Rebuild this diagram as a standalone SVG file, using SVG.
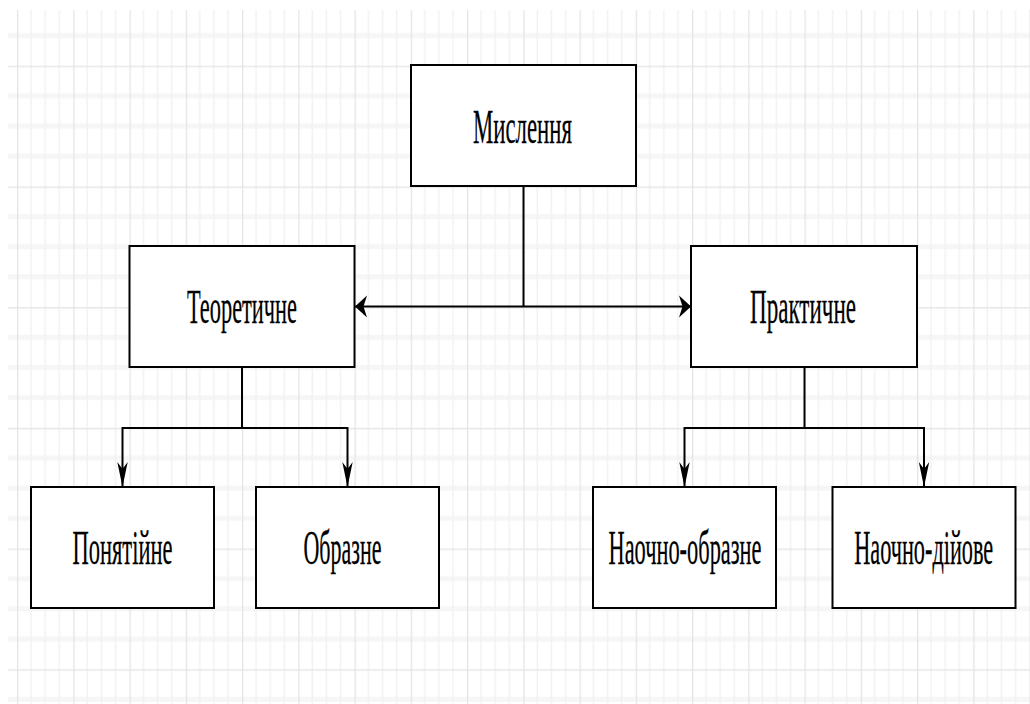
<svg xmlns="http://www.w3.org/2000/svg" width="1030" height="704" viewBox="0 0 1030 704">
  <style>
    .box { fill: #ffffff; stroke: #000000; stroke-width: 2; }
    .lbl { font-family: "Liberation Serif", "Times New Roman", serif; font-size: 22px; fill: #000000; stroke: #000000; stroke-width: 0.12; text-anchor: middle; }
    .wire { fill: none; stroke: #000000; stroke-width: 2; }
  </style>
  <defs>
    <!-- stretched grid: 4 minor cells per major cell -->
    <pattern id="grid" patternUnits="userSpaceOnUse" x="17" y="65.7" width="56.25" height="120.7">
      <g stroke="#f6f6f6" stroke-width="5">
        <line x1="0" y1="30.2" x2="56.25" y2="30.2"/>
        <line x1="0" y1="60.35" x2="56.25" y2="60.35"/>
        <line x1="0" y1="90.5" x2="56.25" y2="90.5"/>
      </g>
      <g stroke="#f2f2f2" stroke-width="1.6">
        <line x1="14.06" y1="0" x2="14.06" y2="120.7"/>
        <line x1="28.12" y1="0" x2="28.12" y2="120.7"/>
        <line x1="42.19" y1="0" x2="42.19" y2="120.7"/>
      </g>
      <line x1="0" y1="0" x2="56.25" y2="0" stroke="#e7e7e7" stroke-width="3"/>
      <line x1="0.5" y1="0" x2="0.5" y2="120.7" stroke="#e4e4e4" stroke-width="1.5"/>
    </pattern>
    <marker id="arrowH" viewBox="0 -12 13 24" refX="12" refY="0" markerWidth="13" markerHeight="24" markerUnits="userSpaceOnUse" orient="auto-start-reverse">
      <path d="M0,-11 L12,0 L0,11 L3.5,0 Z" fill="#000000"/>
    </marker>
    <marker id="arrowV" viewBox="0 -6 26 12" refX="25" refY="0" markerWidth="26" markerHeight="12" markerUnits="userSpaceOnUse" orient="auto">
      <path d="M0,-5.2 L25,0 L0,5.2 L7,0 Z" fill="#000000"/>
    </marker>
  </defs>

  <rect width="1030" height="704" fill="#ffffff"/>
  <rect x="8" y="10" width="1022" height="694" fill="url(#grid)"/>

  <g id="connectors">
    <!-- root to both branches -->
    <path class="wire" d="M523.5,186 V306.5"/>
    <path class="wire" d="M355,306.5 H691" marker-start="url(#arrowH)" marker-end="url(#arrowH)"/>
    <!-- theoretical branch -->
    <path class="wire" d="M242,367 V428 H122.5 V487" marker-end="url(#arrowV)"/>
    <path class="wire" d="M242,428 H347.5 V487" marker-end="url(#arrowV)"/>
    <!-- practical branch -->
    <path class="wire" d="M804.5,367 V428 H684.5 V487" marker-end="url(#arrowV)"/>
    <path class="wire" d="M804.5,428 H924 V487" marker-end="url(#arrowV)"/>
  </g>

  <g id="node-myslennia">
    <rect class="box" x="411" y="65" width="225" height="121"/>
    <text class="lbl" transform="translate(522.5,142.5) scale(1,2.2)" textLength="99" lengthAdjust="spacingAndGlyphs">Мислення</text>
  </g>
  <g id="node-teoretychne">
    <rect class="box" x="129.5" y="246" width="225" height="121"/>
    <text class="lbl" transform="translate(242,322.7) scale(1,2.2)" textLength="110" lengthAdjust="spacingAndGlyphs">Теоретичне</text>
  </g>
  <g id="node-praktychne">
    <rect class="box" x="691" y="246" width="226" height="121"/>
    <text class="lbl" transform="translate(803,322.7) scale(1,2.2)" textLength="106" lengthAdjust="spacingAndGlyphs">Практичне</text>
  </g>
  <g id="node-poniatiine">
    <rect class="box" x="31" y="487" width="183" height="121"/>
    <text class="lbl" transform="translate(122.5,564) scale(1,2.2)" textLength="100" lengthAdjust="spacingAndGlyphs">Понятійне</text>
  </g>
  <g id="node-obrazne">
    <rect class="box" x="256" y="487" width="183" height="121"/>
    <text class="lbl" transform="translate(342.5,564) scale(1,2.2)" textLength="78" lengthAdjust="spacingAndGlyphs">Образне</text>
  </g>
  <g id="node-naochno-obrazne">
    <rect class="box" x="593" y="487" width="183" height="121"/>
    <text class="lbl" transform="translate(685,564) scale(1,2.2)" textLength="153" lengthAdjust="spacingAndGlyphs">Наочно-образне</text>
  </g>
  <g id="node-naochno-diiove">
    <rect class="box" x="832.5" y="487" width="183" height="121"/>
    <text class="lbl" transform="translate(923.7,564) scale(1,2.2)" textLength="139" lengthAdjust="spacingAndGlyphs">Наочно-дійове</text>
  </g>
</svg>
